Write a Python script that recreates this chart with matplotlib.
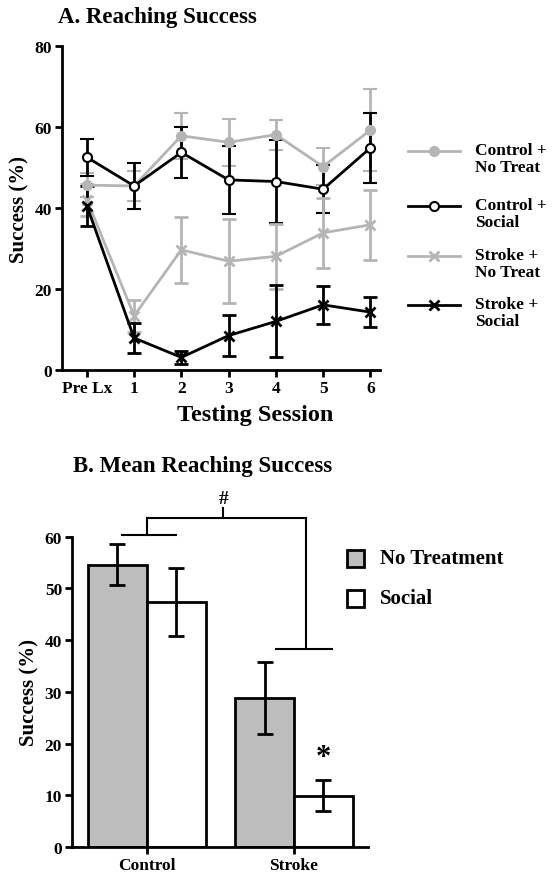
import numpy as np
import matplotlib
matplotlib.use('Agg')
import matplotlib.pyplot as plt
from matplotlib.lines import Line2D
from matplotlib.patches import Rectangle

plt.rcParams['font.family'] = ['Liberation Serif', 'DejaVu Serif']
plt.rcParams['font.weight'] = 'bold'

# ---- Panel A data: reaching success per testing session ----
sessions = ['Pre Lx', '1', '2', '3', '4', '5', '6']
ctrl_none = [45.7, 45.5, 57.9, 56.3, 58.2, 50.3, 59.3]
ctrl_none_err = [3.0, 3.7, 5.7, 5.8, 3.7, 4.6, 10.2]
ctrl_soc = [52.6, 45.5, 53.8, 47.0, 46.6, 44.7, 54.9]
ctrl_soc_err = [4.6, 5.8, 6.4, 8.5, 10.2, 6.0, 8.6]
strk_none = [42.1, 13.4, 29.7, 26.9, 28.1, 33.9, 35.9]
strk_none_err = [4.0, 4.0, 8.1, 10.4, 8.0, 8.6, 8.6]
strk_soc = [40.6, 7.9, 3.1, 8.5, 12.0, 16.1, 14.3]
strk_soc_err = [4.9, 3.7, 1.7, 5.0, 8.9, 4.7, 3.8]

# ---- Panel B data: mean reaching success ----
groups = ['Control', 'Stroke']
mean_none = [54.6, 28.8]
mean_none_err = [4.0, 7.0]
mean_soc = [47.4, 9.9]
mean_soc_err = [6.6, 3.0]

GRAY = '#b5b5b5'
BARGRAY = '#bdbdbd'
W, H = 552, 879

fig = plt.figure(figsize=(5.52, 8.79), dpi=100)

def fx(px):
    return px / W

def fy(py):
    return 1 - py / H

# ================= Panel A =================
ax = fig.add_axes([0.112, 0.578, 0.576, 0.368])
x = np.arange(len(sessions))
series = [
    (ctrl_none, ctrl_none_err, GRAY, 'o', GRAY, 'Control +\nNo Treat'),
    (ctrl_soc, ctrl_soc_err, 'black', 'o', 'white', 'Control +\nSocial'),
    (strk_none, strk_none_err, GRAY, 'x', GRAY, 'Stroke +\nNo Treat'),
    (strk_soc, strk_soc_err, 'black', 'x', 'black', 'Stroke +\nSocial'),
]
for vals, err, col, mk, mfc, lab in series:
    ax.errorbar(x, vals, yerr=err, color=col, lw=2, marker=mk, ms=6.5,
                mfc=mfc, mec=col, mew=1.5 if mk == 'o' else 2,
                ecolor=col, elinewidth=2, capsize=5, capthick=2,
                clip_on=False, zorder=3)

ax.set_xlim(-0.53, 6.2)
ax.set_ylim(0, 80)
ax.set_yticks([0, 20, 40, 60, 80])
ax.set_xticks(x)
ax.set_xticklabels(sessions)
for s in ['top', 'right']:
    ax.spines[s].set_visible(False)
for s in ['left', 'bottom']:
    ax.spines[s].set_linewidth(2)
ax.tick_params(width=2, length=5, labelsize=12.5, pad=2)
ax.set_xlabel('Testing Session', fontsize=17.5, fontweight='bold')
ax.xaxis.set_label_coords(0.607, -0.105)
ax.set_ylabel('Success (%)', fontsize=15, fontweight='bold', labelpad=4)
fig.text(fx(58), fy(17), 'A. Reaching Success', fontsize=16.5,
         fontweight='bold', ha='left', va='center')

# legend drawn by hand so the handle sits on the first text line
leg_y = [152, 207, 257, 306]
for (vals, err, col, mk, mfc, lab), py in zip(series, leg_y):
    fig.add_artist(Line2D([fx(408), fx(460)], [fy(py), fy(py)], color=col, lw=2))
    fig.add_artist(Line2D([fx(434)], [fy(py)], color=col, marker=mk, ms=6.5,
                          mfc=mfc, mec=col, mew=1.5 if mk == 'o' else 2, lw=0))
    fig.text(fx(475), fy(py - 9), lab, fontsize=12.5, fontweight='bold',
             ha='left', va='top', linespacing=1.05)

# ================= Panel B =================
bx = fig.add_axes([0.130, 0.0353, 0.536, 0.353])
g = np.arange(len(groups))
w = 0.4
bx.bar(g - w / 2, mean_none, w, yerr=mean_none_err, color=BARGRAY,
       edgecolor='black', linewidth=2, capsize=6,
       error_kw=dict(elinewidth=2, capthick=2), zorder=2)
bx.bar(g + w / 2, mean_soc, w, yerr=mean_soc_err, color='white',
       edgecolor='black', linewidth=2, capsize=6,
       error_kw=dict(elinewidth=2, capthick=2), zorder=2)
bx.set_xlim(-0.51, 1.5)
bx.set_ylim(0, 60)
bx.set_yticks(np.arange(0, 61, 10))
bx.set_xticks(g)
bx.set_xticklabels(groups)
for s in ['top', 'right']:
    bx.spines[s].set_visible(False)
for s in ['left', 'bottom']:
    bx.spines[s].set_linewidth(2)
bx.tick_params(width=2, length=5, labelsize=12.5, pad=2)
bx.set_ylabel('Success (%)', fontsize=15, fontweight='bold', labelpad=4)
fig.text(fx(73), fy(467), 'B. Mean Reaching Success', fontsize=16.5,
         fontweight='bold', ha='left', va='center')

# significance bracket
kw = dict(color='black', lw=1.5, clip_on=False)
bx.plot([-0.17, 0.2], [60.4, 60.4], **kw)
bx.plot([0.0, 0.0], [60.4, 63.7], **kw)
bx.plot([0.0, 1.08], [63.7, 63.7], **kw)
bx.plot([1.08, 1.08], [63.7, 38.2], **kw)
bx.plot([0.88, 1.26], [38.2, 38.2], **kw)
bx.plot([0.52, 0.52], [63.7, 65.5], **kw)
bx.text(0.52, 65.8, '#', ha='center', va='bottom', fontsize=14, fontweight='bold')
bx.text(1.2, 14.5, '*', ha='center', va='bottom', fontsize=22, fontweight='bold')

# legend for bars
for py, fc, lab in [(559.5, BARGRAY, 'No Treatment'), (599, 'white', 'Social')]:
    fig.add_artist(Rectangle((fx(347), fy(py + 8.5)), fx(17), 17 / H,
                             facecolor=fc, edgecolor='black', lw=2))
    fig.text(fx(380), fy(py), lab, fontsize=15, fontweight='bold',
             ha='left', va='center')

fig.savefig('out.png', dpi=100)
